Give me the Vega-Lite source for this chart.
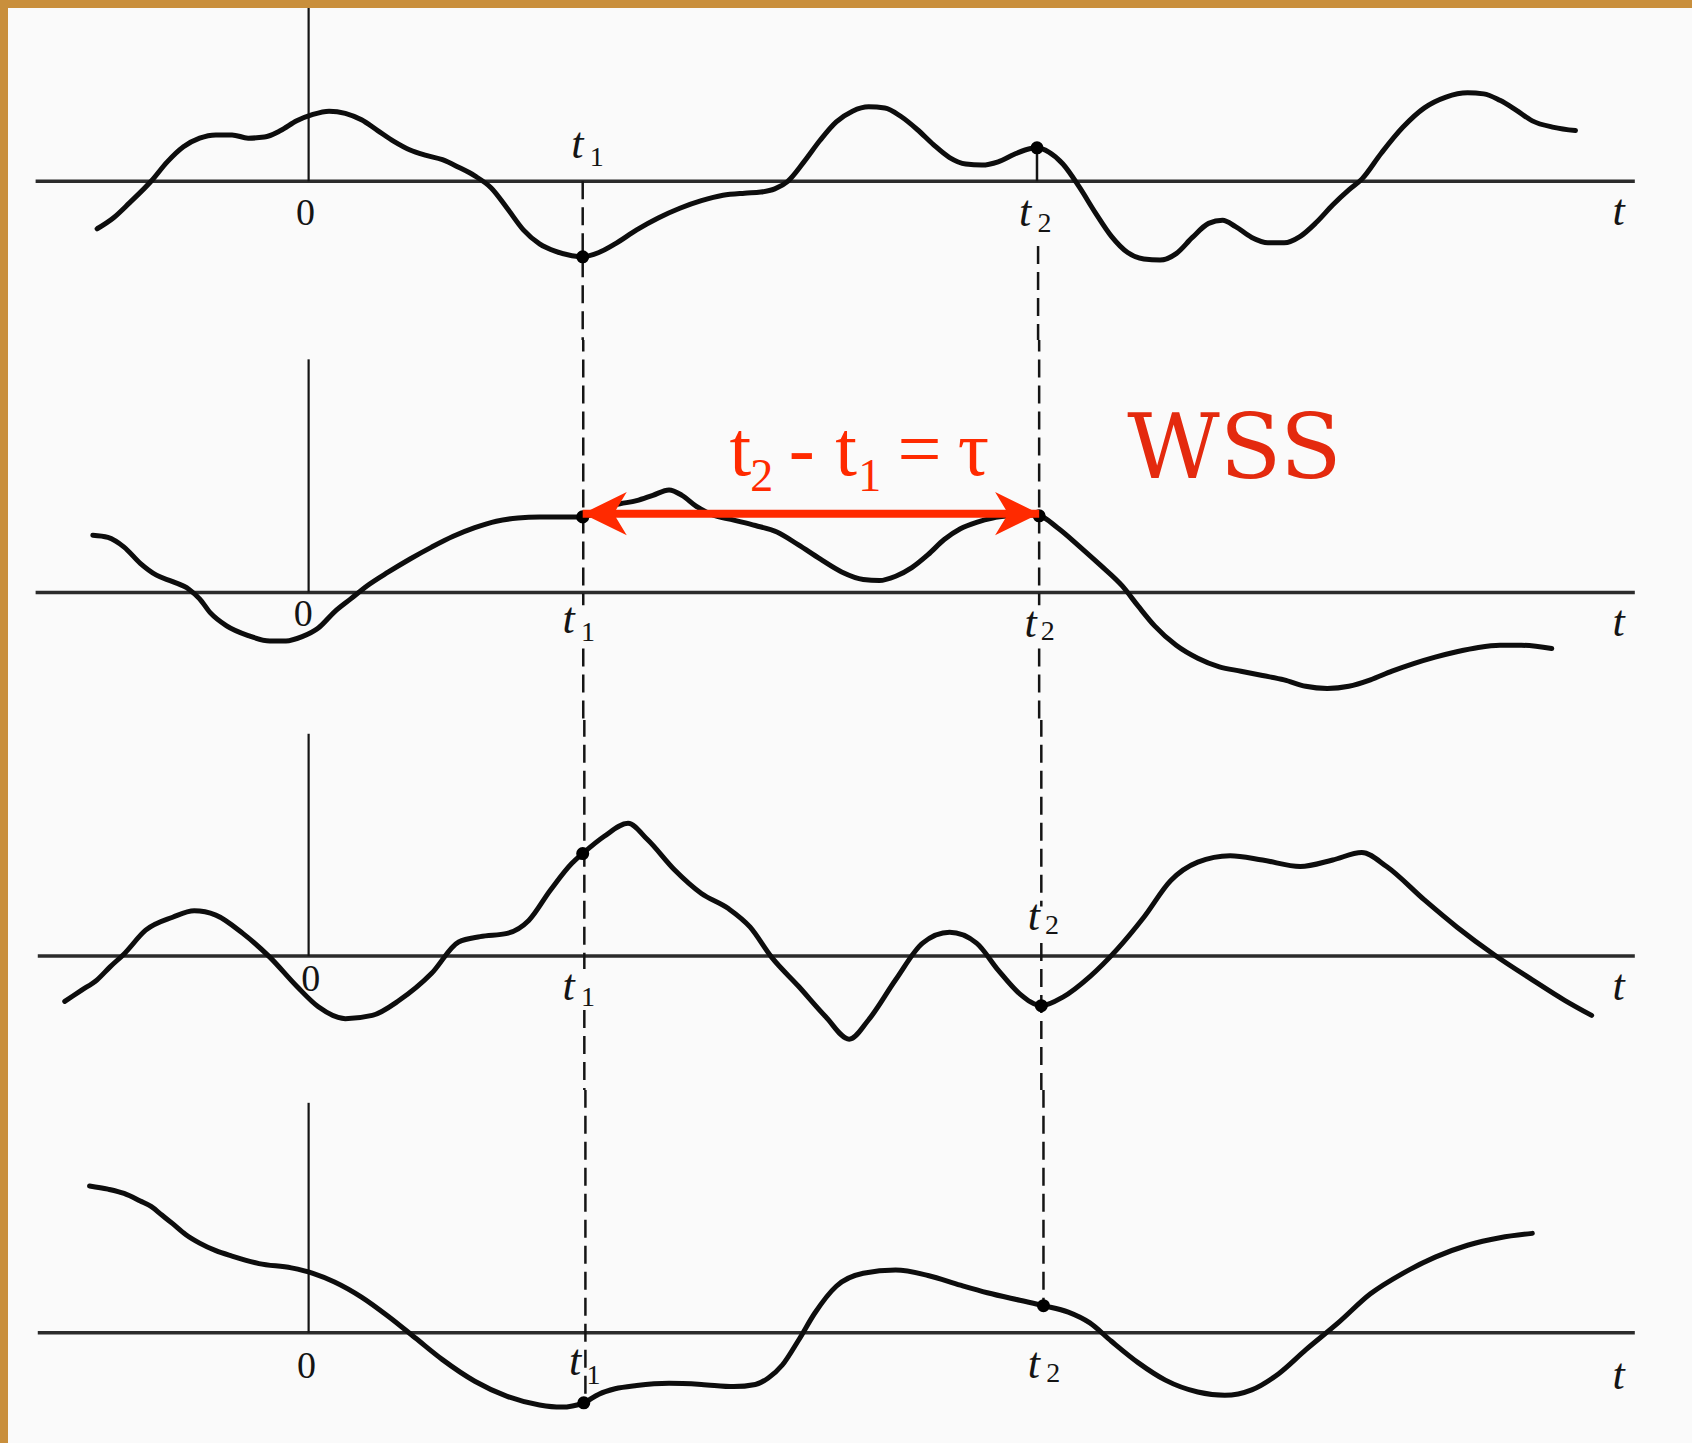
{
  "$schema": "https://vega.github.io/schema/vega-lite/v6.json",
  "background": "#c98f3c",
  "padding": {"left": 8, "top": 8, "right": 0, "bottom": 0},
  "bounds": "flush",
  "spacing": 0,
  "config": {
    "view": {"fill": "#fafafa", "stroke": null},
    "axis": {"disable": true},
    "legend": {"disable": true},
    "concat": {"spacing": 0},
    "text": {"font": "Liberation Serif", "color": "#141414"}
  },
  "resolve": {"scale": {"x": "independent", "y": "independent"}},
  "datasets": {
    "curves": [
      {"sample":1,"t":-196,"value":-44},{"sample":1,"t":-181,"value":-34},{"sample":1,"t":-166,"value":-20},{"sample":1,"t":-146,"value":0},{"sample":1,"t":-131,"value":18},{"sample":1,"t":-116,"value":32},{"sample":1,"t":-101,"value":40},{"sample":1,"t":-86,"value":43},{"sample":1,"t":-71,"value":43},{"sample":1,"t":-56,"value":40},{"sample":1,"t":-41,"value":41},{"sample":1,"t":-26,"value":47},{"sample":1,"t":-11,"value":56},{"sample":1,"t":4,"value":62},{"sample":1,"t":19,"value":65},{"sample":1,"t":34,"value":63},{"sample":1,"t":49,"value":57},{"sample":1,"t":64,"value":47},{"sample":1,"t":79,"value":37},{"sample":1,"t":94,"value":29},{"sample":1,"t":109,"value":24},{"sample":1,"t":124,"value":20},{"sample":1,"t":139,"value":13},{"sample":1,"t":154,"value":5},{"sample":1,"t":169,"value":-6},{"sample":1,"t":184,"value":-25},{"sample":1,"t":199,"value":-45},{"sample":1,"t":214,"value":-58},{"sample":1,"t":229,"value":-65},{"sample":1,"t":244,"value":-69},{"sample":1,"t":254,"value":-70},{"sample":1,"t":269,"value":-66},{"sample":1,"t":284,"value":-58},{"sample":1,"t":304,"value":-45},{"sample":1,"t":324,"value":-34},{"sample":1,"t":344,"value":-25},{"sample":1,"t":364,"value":-18},{"sample":1,"t":384,"value":-13},{"sample":1,"t":404,"value":-11},{"sample":1,"t":419,"value":-10},{"sample":1,"t":432,"value":-7},{"sample":1,"t":444,"value":0},{"sample":1,"t":459,"value":18},{"sample":1,"t":474,"value":38},{"sample":1,"t":489,"value":55},{"sample":1,"t":504,"value":65},{"sample":1,"t":519,"value":69},{"sample":1,"t":534,"value":68},{"sample":1,"t":549,"value":60},{"sample":1,"t":564,"value":48},{"sample":1,"t":579,"value":34},{"sample":1,"t":594,"value":22},{"sample":1,"t":609,"value":16},{"sample":1,"t":624,"value":15},{"sample":1,"t":639,"value":18},{"sample":1,"t":654,"value":25},{"sample":1,"t":664,"value":29},{"sample":1,"t":675,"value":31},{"sample":1,"t":686,"value":27},{"sample":1,"t":699,"value":16},{"sample":1,"t":714,"value":-5},{"sample":1,"t":729,"value":-29},{"sample":1,"t":744,"value":-51},{"sample":1,"t":759,"value":-66},{"sample":1,"t":774,"value":-72},{"sample":1,"t":789,"value":-73},{"sample":1,"t":804,"value":-67},{"sample":1,"t":819,"value":-52},{"sample":1,"t":834,"value":-39},{"sample":1,"t":847,"value":-36},{"sample":1,"t":859,"value":-42},{"sample":1,"t":874,"value":-52},{"sample":1,"t":889,"value":-57},{"sample":1,"t":904,"value":-57},{"sample":1,"t":919,"value":-51},{"sample":1,"t":934,"value":-38},{"sample":1,"t":949,"value":-22},{"sample":1,"t":964,"value":-8},{"sample":1,"t":976,"value":2},{"sample":1,"t":994,"value":26},{"sample":1,"t":1014,"value":50},{"sample":1,"t":1034,"value":68},{"sample":1,"t":1054,"value":78},{"sample":1,"t":1074,"value":82},{"sample":1,"t":1089,"value":81},{"sample":1,"t":1104,"value":75},{"sample":1,"t":1119,"value":66},{"sample":1,"t":1134,"value":56},{"sample":1,"t":1154,"value":50},{"sample":1,"t":1174,"value":47},
      {"sample":2,"t":-200,"value":53},{"sample":2,"t":-186,"value":51},{"sample":2,"t":-171,"value":42},{"sample":2,"t":-156,"value":27},{"sample":2,"t":-141,"value":16},{"sample":2,"t":-126,"value":10},{"sample":2,"t":-111,"value":3},{"sample":2,"t":-101,"value":-6},{"sample":2,"t":-91,"value":-19},{"sample":2,"t":-76,"value":-31},{"sample":2,"t":-56,"value":-40},{"sample":2,"t":-36,"value":-45},{"sample":2,"t":-21,"value":-45},{"sample":2,"t":-6,"value":-41},{"sample":2,"t":9,"value":-33},{"sample":2,"t":24,"value":-18},{"sample":2,"t":39,"value":-6},{"sample":2,"t":54,"value":6},{"sample":2,"t":74,"value":19},{"sample":2,"t":94,"value":31},{"sample":2,"t":114,"value":42},{"sample":2,"t":134,"value":52},{"sample":2,"t":154,"value":60},{"sample":2,"t":174,"value":66},{"sample":2,"t":194,"value":69},{"sample":2,"t":214,"value":70},{"sample":2,"t":234,"value":70},{"sample":2,"t":254,"value":70},{"sample":2,"t":269,"value":75},{"sample":2,"t":284,"value":81},{"sample":2,"t":304,"value":85},{"sample":2,"t":319,"value":90},{"sample":2,"t":334,"value":95},{"sample":2,"t":346,"value":90},{"sample":2,"t":359,"value":80},{"sample":2,"t":374,"value":72},{"sample":2,"t":394,"value":67},{"sample":2,"t":414,"value":62},{"sample":2,"t":434,"value":56},{"sample":2,"t":454,"value":44},{"sample":2,"t":474,"value":31},{"sample":2,"t":494,"value":19},{"sample":2,"t":514,"value":12},{"sample":2,"t":529,"value":11},{"sample":2,"t":544,"value":15},{"sample":2,"t":559,"value":23},{"sample":2,"t":574,"value":35},{"sample":2,"t":589,"value":49},{"sample":2,"t":604,"value":59},{"sample":2,"t":619,"value":65},{"sample":2,"t":634,"value":69},{"sample":2,"t":649,"value":71},{"sample":2,"t":664,"value":72},{"sample":2,"t":677,"value":71},{"sample":2,"t":694,"value":60},{"sample":2,"t":714,"value":43},{"sample":2,"t":734,"value":25},{"sample":2,"t":754,"value":6},{"sample":2,"t":769,"value":-13},{"sample":2,"t":784,"value":-31},{"sample":2,"t":804,"value":-49},{"sample":2,"t":824,"value":-61},{"sample":2,"t":844,"value":-69},{"sample":2,"t":864,"value":-73},{"sample":2,"t":884,"value":-77},{"sample":2,"t":904,"value":-81},{"sample":2,"t":924,"value":-87},{"sample":2,"t":944,"value":-89},{"sample":2,"t":964,"value":-87},{"sample":2,"t":984,"value":-81},{"sample":2,"t":1004,"value":-73},{"sample":2,"t":1024,"value":-66},{"sample":2,"t":1044,"value":-60},{"sample":2,"t":1064,"value":-55},{"sample":2,"t":1084,"value":-51},{"sample":2,"t":1104,"value":-49},{"sample":2,"t":1124,"value":-49},{"sample":2,"t":1152,"value":-52},
      {"sample":3,"t":-226,"value":-42},{"sample":3,"t":-211,"value":-32},{"sample":3,"t":-196,"value":-22},{"sample":3,"t":-184,"value":-10},{"sample":3,"t":-171,"value":2},{"sample":3,"t":-151,"value":24},{"sample":3,"t":-126,"value":36},{"sample":3,"t":-106,"value":42},{"sample":3,"t":-86,"value":38},{"sample":3,"t":-61,"value":21},{"sample":3,"t":-36,"value":-1},{"sample":3,"t":-11,"value":-28},{"sample":3,"t":9,"value":-47},{"sample":3,"t":34,"value":-58},{"sample":3,"t":59,"value":-55},{"sample":3,"t":84,"value":-41},{"sample":3,"t":114,"value":-16},{"sample":3,"t":139,"value":13},{"sample":3,"t":159,"value":18},{"sample":3,"t":184,"value":21},{"sample":3,"t":204,"value":33},{"sample":3,"t":224,"value":61},{"sample":3,"t":244,"value":86},{"sample":3,"t":254,"value":95},{"sample":3,"t":274,"value":111},{"sample":3,"t":296,"value":123},{"sample":3,"t":314,"value":108},{"sample":3,"t":339,"value":80},{"sample":3,"t":364,"value":58},{"sample":3,"t":389,"value":44},{"sample":3,"t":409,"value":27},{"sample":3,"t":429,"value":-1},{"sample":3,"t":454,"value":-28},{"sample":3,"t":479,"value":-56},{"sample":3,"t":501,"value":-77},{"sample":3,"t":519,"value":-59},{"sample":3,"t":544,"value":-22},{"sample":3,"t":569,"value":12},{"sample":3,"t":594,"value":22},{"sample":3,"t":619,"value":12},{"sample":3,"t":639,"value":-13},{"sample":3,"t":659,"value":-35},{"sample":3,"t":679,"value":-46},{"sample":3,"t":699,"value":-38},{"sample":3,"t":724,"value":-19},{"sample":3,"t":749,"value":6},{"sample":3,"t":774,"value":36},{"sample":3,"t":799,"value":70},{"sample":3,"t":824,"value":87},{"sample":3,"t":854,"value":93},{"sample":3,"t":884,"value":89},{"sample":3,"t":919,"value":83},{"sample":3,"t":949,"value":89},{"sample":3,"t":976,"value":96},{"sample":3,"t":999,"value":83},{"sample":3,"t":1034,"value":52},{"sample":3,"t":1064,"value":27},{"sample":3,"t":1099,"value":1},{"sample":3,"t":1134,"value":-22},{"sample":3,"t":1164,"value":-41},{"sample":3,"t":1189,"value":-55},
      {"sample":4,"t":-203,"value":136},{"sample":4,"t":-186,"value":133},{"sample":4,"t":-171,"value":129},{"sample":4,"t":-156,"value":122},{"sample":4,"t":-146,"value":117},{"sample":4,"t":-136,"value":109},{"sample":4,"t":-126,"value":101},{"sample":4,"t":-114,"value":91},{"sample":4,"t":-101,"value":83},{"sample":4,"t":-86,"value":76},{"sample":4,"t":-71,"value":71},{"sample":4,"t":-46,"value":64},{"sample":4,"t":-16,"value":60},{"sample":4,"t":4,"value":55},{"sample":4,"t":24,"value":47},{"sample":4,"t":49,"value":33},{"sample":4,"t":74,"value":15},{"sample":4,"t":99,"value":-5},{"sample":4,"t":124,"value":-25},{"sample":4,"t":154,"value":-45},{"sample":4,"t":184,"value":-59},{"sample":4,"t":214,"value":-67},{"sample":4,"t":234,"value":-69},{"sample":4,"t":255,"value":-65},{"sample":4,"t":269,"value":-57},{"sample":4,"t":284,"value":-52},{"sample":4,"t":304,"value":-49},{"sample":4,"t":334,"value":-47},{"sample":4,"t":364,"value":-48},{"sample":4,"t":394,"value":-50},{"sample":4,"t":414,"value":-48},{"sample":4,"t":426,"value":-42},{"sample":4,"t":439,"value":-30},{"sample":4,"t":454,"value":-7},{"sample":4,"t":469,"value":18},{"sample":4,"t":489,"value":43},{"sample":4,"t":514,"value":55},{"sample":4,"t":544,"value":58},{"sample":4,"t":574,"value":53},{"sample":4,"t":604,"value":44},{"sample":4,"t":629,"value":37},{"sample":4,"t":659,"value":30},{"sample":4,"t":681,"value":25},{"sample":4,"t":704,"value":19},{"sample":4,"t":724,"value":9},{"sample":4,"t":744,"value":-8},{"sample":4,"t":769,"value":-28},{"sample":4,"t":794,"value":-44},{"sample":4,"t":824,"value":-55},{"sample":4,"t":849,"value":-58},{"sample":4,"t":874,"value":-53},{"sample":4,"t":899,"value":-38},{"sample":4,"t":924,"value":-16},{"sample":4,"t":954,"value":9},{"sample":4,"t":984,"value":36},{"sample":4,"t":1014,"value":55},{"sample":4,"t":1044,"value":70},{"sample":4,"t":1074,"value":81},{"sample":4,"t":1104,"value":88},{"sample":4,"t":1134,"value":92}
    ],
    "dots": [
      {"sample":1,"t":254,"value":-70},{"sample":1,"t":675,"value":31},
      {"sample":2,"t":254,"value":70},{"sample":2,"t":677,"value":71},
      {"sample":3,"t":254,"value":95},{"sample":3,"t":679,"value":-46},
      {"sample":4,"t":255,"value":-65},{"sample":4,"t":681,"value":25}
    ],
    "guides": [
      {"sample":1,"t":254,"top":0,"bottom":-150,"kind":"dashed"},
      {"sample":1,"t":675,"top":31,"bottom":0,"kind":"solid"},
      {"sample":1,"t":676,"top":-60,"bottom":-150,"kind":"dashed"},
      {"sample":2,"t":254.5,"top":240,"bottom":-12,"kind":"dashed"},
      {"sample":2,"t":254.5,"top":-52,"bottom":-120,"kind":"dashed"},
      {"sample":2,"t":677,"top":240,"bottom":-12,"kind":"dashed"},
      {"sample":2,"t":677,"top":-52,"bottom":-120,"kind":"dashed"},
      {"sample":3,"t":255.5,"top":220,"bottom":-12,"kind":"dashed"},
      {"sample":3,"t":255.5,"top":-50,"bottom":-125,"kind":"dashed"},
      {"sample":3,"t":679,"top":220,"bottom":46,"kind":"dashed"},
      {"sample":3,"t":679,"top":12,"bottom":-125,"kind":"dashed"},
      {"sample":4,"t":256.5,"top":225,"bottom":-65,"kind":"dashed"},
      {"sample":4,"t":681,"top":225,"bottom":25,"kind":"dashed"}
    ],
    "axes": [
      {"sample":1,"top":170},{"sample":2,"top":216},{"sample":3,"top":206},{"sample":4,"top":213}
    ],
    "baselines": [
      {"sample":1,"start":-253,"end":1229},{"sample":2,"start":-253,"end":1229},
      {"sample":3,"start":-251,"end":1229},{"sample":4,"start":-251,"end":1229}
    ],
    "labels": [
      {"sample":1,"t":-3,"value":-30,"text":"0","role":"zero"},
      {"sample":1,"t":249,"value":34,"text":"t","role":"main"},
      {"sample":1,"t":267,"value":22,"text":"1","role":"sub"},
      {"sample":1,"t":664,"value":-29,"text":"t","role":"main"},
      {"sample":1,"t":682,"value":-40,"text":"2","role":"sub"},
      {"sample":1,"t":1214,"value":-28,"text":"t","role":"main"},
      {"sample":2,"t":-5,"value":-21,"text":"0","role":"zero"},
      {"sample":2,"t":241,"value":-26,"text":"t","role":"main"},
      {"sample":2,"t":259,"value":-38,"text":"1","role":"sub"},
      {"sample":2,"t":669,"value":-29,"text":"t","role":"main"},
      {"sample":2,"t":685,"value":-37,"text":"2","role":"sub"},
      {"sample":2,"t":1214,"value":-28,"text":"t","role":"main"},
      {"sample":3,"t":2,"value":-22,"text":"0","role":"zero"},
      {"sample":3,"t":241,"value":-29,"text":"t","role":"main"},
      {"sample":3,"t":259,"value":-39,"text":"1","role":"sub"},
      {"sample":3,"t":672,"value":36,"text":"t","role":"main"},
      {"sample":3,"t":689,"value":28,"text":"2","role":"sub"},
      {"sample":3,"t":1214,"value":-29,"text":"t","role":"main"},
      {"sample":4,"t":-2,"value":-32,"text":"0","role":"zero"},
      {"sample":4,"t":247,"value":-27,"text":"t","role":"main"},
      {"sample":4,"t":264,"value":-40,"text":"1","role":"sub"},
      {"sample":4,"t":672,"value":-30,"text":"t","role":"main"},
      {"sample":4,"t":690,"value":-38,"text":"2","role":"sub"},
      {"sample":4,"t":1214,"value":-40,"text":"t","role":"main"}
    ],
    "formula": [
      {"t":400,"value":109,"text":"t","role":"main"},
      {"t":457,"value":109,"text":"-","role":"main"},
      {"t":498,"value":109,"text":"t","role":"main"},
      {"t":566,"value":109,"text":"=","role":"main"},
      {"t":616,"value":109,"text":"τ","role":"main"},
      {"t":420,"value":94,"text":"2","role":"sub"},
      {"t":520,"value":94,"text":"1","role":"sub"}
    ],
    "interval": [{"from":254,"to":677,"value":73}],
    "heads": [{"t":254,"value":73,"dir":"left"},{"t":677,"value":73,"dir":"right"}],
    "tag": [{"t":858,"value":106,"text":"WSS"}]
  },
  "vconcat": [
    {
      "width": 1684, "height": 332,
      "layer": [
        {"data": {"name": "baselines"}, "transform": [{"filter": "datum.sample == 1"}], "mark": {"type": "rule", "color": "#2b2b2b", "strokeWidth": 3.5, "clip": true},
         "encoding": {"x": {"field": "start", "type": "quantitative"}, "x2": {"field": "end"}, "y": {"datum": 0, "type": "quantitative"}}},
        {"data": {"name": "axes"}, "transform": [{"filter": "datum.sample == 1"}], "mark": {"type": "rule", "color": "#141414", "strokeWidth": 2.2, "clip": true},
         "encoding": {"x": {"datum": 0, "type": "quantitative"}, "y": {"field": "top", "type": "quantitative"}, "y2": {"datum": 0}}},
        {"data": {"name": "guides"}, "transform": [{"filter": "datum.sample == 1"}], "mark": {"type": "rule", "color": "#141414", "strokeWidth": 2.5, "clip": true},
         "encoding": {"x": {"field": "t", "type": "quantitative"}, "y": {"field": "top", "type": "quantitative"}, "y2": {"field": "bottom"},
           "strokeDash": {"field": "kind", "type": "nominal", "scale": {"domain": ["dashed", "solid"], "range": [[18, 8], [1, 0]]}, "legend": null}}},
        {"data": {"name": "curves"}, "transform": [{"filter": "datum.sample == 1"}], "mark": {"type": "line", "color": "#0d0d0d", "strokeWidth": 5, "interpolate": "monotone", "strokeCap": "round", "strokeJoin": "round", "clip": true},
         "encoding": {"x": {"field": "t", "type": "quantitative", "scale": {"domain": [-278.59, 1282], "nice": false, "zero": false}},
           "y": {"field": "value", "type": "quantitative", "scale": {"domain": [-147.08, 160.59], "nice": false, "zero": false}}}},
        {"data": {"name": "dots"}, "transform": [{"filter": "datum.sample == 1"}], "mark": {"type": "point", "shape": "circle", "filled": true, "color": "#000000", "opacity": 1, "size": 170},
         "encoding": {"x": {"field": "t", "type": "quantitative"}, "y": {"field": "value", "type": "quantitative"}}},
        {"data": {"name": "labels"}, "transform": [{"filter": "datum.sample == 1 && datum.role == 'zero'"}],
         "mark": {"type": "text", "fontSize": 38, "align": "center", "baseline": "middle"},
         "encoding": {"x": {"field": "t", "type": "quantitative"}, "y": {"field": "value", "type": "quantitative"}, "text": {"field": "text"}}},
        {"data": {"name": "labels"}, "transform": [{"filter": "datum.sample == 1 && datum.role == 'main'"}],
         "mark": {"type": "text", "fontSize": 44, "fontStyle": "italic", "align": "center", "baseline": "middle"},
         "encoding": {"x": {"field": "t", "type": "quantitative"}, "y": {"field": "value", "type": "quantitative"}, "text": {"field": "text"}}},
        {"data": {"name": "labels"}, "transform": [{"filter": "datum.sample == 1 && datum.role == 'sub'"}],
         "mark": {"type": "text", "fontSize": 28, "align": "center", "baseline": "middle"},
         "encoding": {"x": {"field": "t", "type": "quantitative"}, "y": {"field": "value", "type": "quantitative"}, "text": {"field": "text"}}}
      ]
    },
    {
      "width": 1684, "height": 380,
      "layer": [
        {"data": {"name": "baselines"}, "transform": [{"filter": "datum.sample == 2"}], "mark": {"type": "rule", "color": "#2b2b2b", "strokeWidth": 3.5, "clip": true},
         "encoding": {"x": {"field": "start", "type": "quantitative"}, "x2": {"field": "end"}, "y": {"datum": 0, "type": "quantitative"}}},
        {"data": {"name": "axes"}, "transform": [{"filter": "datum.sample == 2"}], "mark": {"type": "rule", "color": "#141414", "strokeWidth": 2.2, "clip": true},
         "encoding": {"x": {"datum": 0, "type": "quantitative"}, "y": {"field": "top", "type": "quantitative"}, "y2": {"datum": 0}}},
        {"data": {"name": "guides"}, "transform": [{"filter": "datum.sample == 2"}], "mark": {"type": "rule", "color": "#141414", "strokeWidth": 2.5, "clip": true},
         "encoding": {"x": {"field": "t", "type": "quantitative"}, "y": {"field": "top", "type": "quantitative"}, "y2": {"field": "bottom"},
           "strokeDash": {"field": "kind", "type": "nominal", "scale": {"domain": ["dashed", "solid"], "range": [[18, 8], [1, 0]]}, "legend": null}}},
        {"data": {"name": "curves"}, "transform": [{"filter": "datum.sample == 2"}], "mark": {"type": "line", "color": "#0d0d0d", "strokeWidth": 5, "interpolate": "monotone", "strokeCap": "round", "strokeJoin": "round", "clip": true},
         "encoding": {"x": {"field": "t", "type": "quantitative", "scale": {"domain": [-278.59, 1282], "nice": false, "zero": false}},
           "y": {"field": "value", "type": "quantitative", "scale": {"domain": [-118.24, 233.92], "nice": false, "zero": false}}}},
        {"data": {"name": "dots"}, "transform": [{"filter": "datum.sample == 2"}], "mark": {"type": "point", "shape": "circle", "filled": true, "color": "#000000", "opacity": 1, "size": 170},
         "encoding": {"x": {"field": "t", "type": "quantitative"}, "y": {"field": "value", "type": "quantitative"}}},
        {"data": {"name": "interval"}, "mark": {"type": "rule", "color": "#ff2a00", "strokeWidth": 8, "strokeCap": "butt"},
         "encoding": {"x": {"field": "from", "type": "quantitative"}, "x2": {"field": "to"}, "y": {"field": "value", "type": "quantitative"}}},
        {"data": {"name": "heads"}, "mark": {"type": "point", "filled": true, "color": "#ff2a00", "opacity": 1, "size": 1884, "strokeWidth": 0},
         "encoding": {"x": {"field": "t", "type": "quantitative"}, "y": {"field": "value", "type": "quantitative"},
           "shape": {"field": "dir", "type": "nominal", "scale": {"domain": ["left", "right"], "range": ["M 0 0 L 2.03 -1 L 1.43 0 L 2.03 1 Z", "M 0 0 L -2.03 -1 L -1.43 0 L -2.03 1 Z"]}, "legend": null}}},
        {"data": {"name": "labels"}, "transform": [{"filter": "datum.sample == 2 && datum.role == 'zero'"}],
         "mark": {"type": "text", "fontSize": 38, "align": "center", "baseline": "middle"},
         "encoding": {"x": {"field": "t", "type": "quantitative"}, "y": {"field": "value", "type": "quantitative"}, "text": {"field": "text"}}},
        {"data": {"name": "labels"}, "transform": [{"filter": "datum.sample == 2 && datum.role == 'main'"}],
         "mark": {"type": "text", "fontSize": 44, "fontStyle": "italic", "align": "center", "baseline": "middle"},
         "encoding": {"x": {"field": "t", "type": "quantitative"}, "y": {"field": "value", "type": "quantitative"}, "text": {"field": "text"}}},
        {"data": {"name": "labels"}, "transform": [{"filter": "datum.sample == 2 && datum.role == 'sub'"}],
         "mark": {"type": "text", "fontSize": 28, "align": "center", "baseline": "middle"},
         "encoding": {"x": {"field": "t", "type": "quantitative"}, "y": {"field": "value", "type": "quantitative"}, "text": {"field": "text"}}},
        {"data": {"name": "formula"}, "transform": [{"filter": "datum.role == 'main'"}],
         "mark": {"type": "text", "fontSize": 78, "color": "#ff2a00", "align": "center", "baseline": "alphabetic"},
         "encoding": {"x": {"field": "t", "type": "quantitative"}, "y": {"field": "value", "type": "quantitative"}, "text": {"field": "text"}}},
        {"data": {"name": "formula"}, "transform": [{"filter": "datum.role == 'sub'"}],
         "mark": {"type": "text", "fontSize": 46, "color": "#ff2a00", "align": "center", "baseline": "alphabetic"},
         "encoding": {"x": {"field": "t", "type": "quantitative"}, "y": {"field": "value", "type": "quantitative"}, "text": {"field": "text"}}},
        {"data": {"name": "tag"},
         "mark": {"type": "text", "font": "DejaVu Serif", "fontSize": 90, "color": "#e42a0e", "align": "center", "baseline": "alphabetic"},
         "encoding": {"x": {"field": "t", "type": "quantitative"}, "y": {"field": "value", "type": "quantitative"}, "text": {"field": "text"}}}
      ]
    },
    {
      "width": 1684, "height": 370,
      "layer": [
        {"data": {"name": "baselines"}, "transform": [{"filter": "datum.sample == 3"}], "mark": {"type": "rule", "color": "#2b2b2b", "strokeWidth": 3.5, "clip": true},
         "encoding": {"x": {"field": "start", "type": "quantitative"}, "x2": {"field": "end"}, "y": {"datum": 0, "type": "quantitative"}}},
        {"data": {"name": "axes"}, "transform": [{"filter": "datum.sample == 3"}], "mark": {"type": "rule", "color": "#141414", "strokeWidth": 2.2, "clip": true},
         "encoding": {"x": {"datum": 0, "type": "quantitative"}, "y": {"field": "top", "type": "quantitative"}, "y2": {"datum": 0}}},
        {"data": {"name": "guides"}, "transform": [{"filter": "datum.sample == 3"}], "mark": {"type": "rule", "color": "#141414", "strokeWidth": 2.5, "clip": true},
         "encoding": {"x": {"field": "t", "type": "quantitative"}, "y": {"field": "top", "type": "quantitative"}, "y2": {"field": "bottom"},
           "strokeDash": {"field": "kind", "type": "nominal", "scale": {"domain": ["dashed", "solid"], "range": [[18, 8], [1, 0]]}, "legend": null}}},
        {"data": {"name": "curves"}, "transform": [{"filter": "datum.sample == 3"}], "mark": {"type": "line", "color": "#0d0d0d", "strokeWidth": 5, "interpolate": "monotone", "strokeCap": "round", "strokeJoin": "round", "clip": true},
         "encoding": {"x": {"field": "t", "type": "quantitative", "scale": {"domain": [-278.59, 1282], "nice": false, "zero": false}},
           "y": {"field": "value", "type": "quantitative", "scale": {"domain": [-124.12, 218.76], "nice": false, "zero": false}}}},
        {"data": {"name": "dots"}, "transform": [{"filter": "datum.sample == 3"}], "mark": {"type": "point", "shape": "circle", "filled": true, "color": "#000000", "opacity": 1, "size": 170},
         "encoding": {"x": {"field": "t", "type": "quantitative"}, "y": {"field": "value", "type": "quantitative"}}},
        {"data": {"name": "labels"}, "transform": [{"filter": "datum.sample == 3 && datum.role == 'zero'"}],
         "mark": {"type": "text", "fontSize": 38, "align": "center", "baseline": "middle"},
         "encoding": {"x": {"field": "t", "type": "quantitative"}, "y": {"field": "value", "type": "quantitative"}, "text": {"field": "text"}}},
        {"data": {"name": "labels"}, "transform": [{"filter": "datum.sample == 3 && datum.role == 'main'"}],
         "mark": {"type": "text", "fontSize": 44, "fontStyle": "italic", "align": "center", "baseline": "middle"},
         "encoding": {"x": {"field": "t", "type": "quantitative"}, "y": {"field": "value", "type": "quantitative"}, "text": {"field": "text"}}},
        {"data": {"name": "labels"}, "transform": [{"filter": "datum.sample == 3 && datum.role == 'sub'"}],
         "mark": {"type": "text", "fontSize": 28, "align": "center", "baseline": "middle"},
         "encoding": {"x": {"field": "t", "type": "quantitative"}, "y": {"field": "value", "type": "quantitative"}, "text": {"field": "text"}}}
      ]
    },
    {
      "width": 1684, "height": 353,
      "layer": [
        {"data": {"name": "baselines"}, "transform": [{"filter": "datum.sample == 4"}], "mark": {"type": "rule", "color": "#2b2b2b", "strokeWidth": 3.5, "clip": true},
         "encoding": {"x": {"field": "start", "type": "quantitative"}, "x2": {"field": "end"}, "y": {"datum": 0, "type": "quantitative"}}},
        {"data": {"name": "axes"}, "transform": [{"filter": "datum.sample == 4"}], "mark": {"type": "rule", "color": "#141414", "strokeWidth": 2.2, "clip": true},
         "encoding": {"x": {"datum": 0, "type": "quantitative"}, "y": {"field": "top", "type": "quantitative"}, "y2": {"datum": 0}}},
        {"data": {"name": "guides"}, "transform": [{"filter": "datum.sample == 4"}], "mark": {"type": "rule", "color": "#141414", "strokeWidth": 2.5, "clip": true},
         "encoding": {"x": {"field": "t", "type": "quantitative"}, "y": {"field": "top", "type": "quantitative"}, "y2": {"field": "bottom"},
           "strokeDash": {"field": "kind", "type": "nominal", "scale": {"domain": ["dashed", "solid"], "range": [[18, 8], [1, 0]]}, "legend": null}}},
        {"data": {"name": "curves"}, "transform": [{"filter": "datum.sample == 4"}], "mark": {"type": "line", "color": "#0d0d0d", "strokeWidth": 5, "interpolate": "monotone", "strokeCap": "round", "strokeJoin": "round", "clip": true},
         "encoding": {"x": {"field": "t", "type": "quantitative", "scale": {"domain": [-278.59, 1282], "nice": false, "zero": false}},
           "y": {"field": "value", "type": "quantitative", "scale": {"domain": [-102.26, 224.88], "nice": false, "zero": false}}}},
        {"data": {"name": "dots"}, "transform": [{"filter": "datum.sample == 4"}], "mark": {"type": "point", "shape": "circle", "filled": true, "color": "#000000", "opacity": 1, "size": 170},
         "encoding": {"x": {"field": "t", "type": "quantitative"}, "y": {"field": "value", "type": "quantitative"}}},
        {"data": {"name": "labels"}, "transform": [{"filter": "datum.sample == 4 && datum.role == 'zero'"}],
         "mark": {"type": "text", "fontSize": 38, "align": "center", "baseline": "middle"},
         "encoding": {"x": {"field": "t", "type": "quantitative"}, "y": {"field": "value", "type": "quantitative"}, "text": {"field": "text"}}},
        {"data": {"name": "labels"}, "transform": [{"filter": "datum.sample == 4 && datum.role == 'main'"}],
         "mark": {"type": "text", "fontSize": 44, "fontStyle": "italic", "align": "center", "baseline": "middle"},
         "encoding": {"x": {"field": "t", "type": "quantitative"}, "y": {"field": "value", "type": "quantitative"}, "text": {"field": "text"}}},
        {"data": {"name": "labels"}, "transform": [{"filter": "datum.sample == 4 && datum.role == 'sub'"}],
         "mark": {"type": "text", "fontSize": 28, "align": "center", "baseline": "middle"},
         "encoding": {"x": {"field": "t", "type": "quantitative"}, "y": {"field": "value", "type": "quantitative"}, "text": {"field": "text"}}}
      ]
    }
  ]
}
